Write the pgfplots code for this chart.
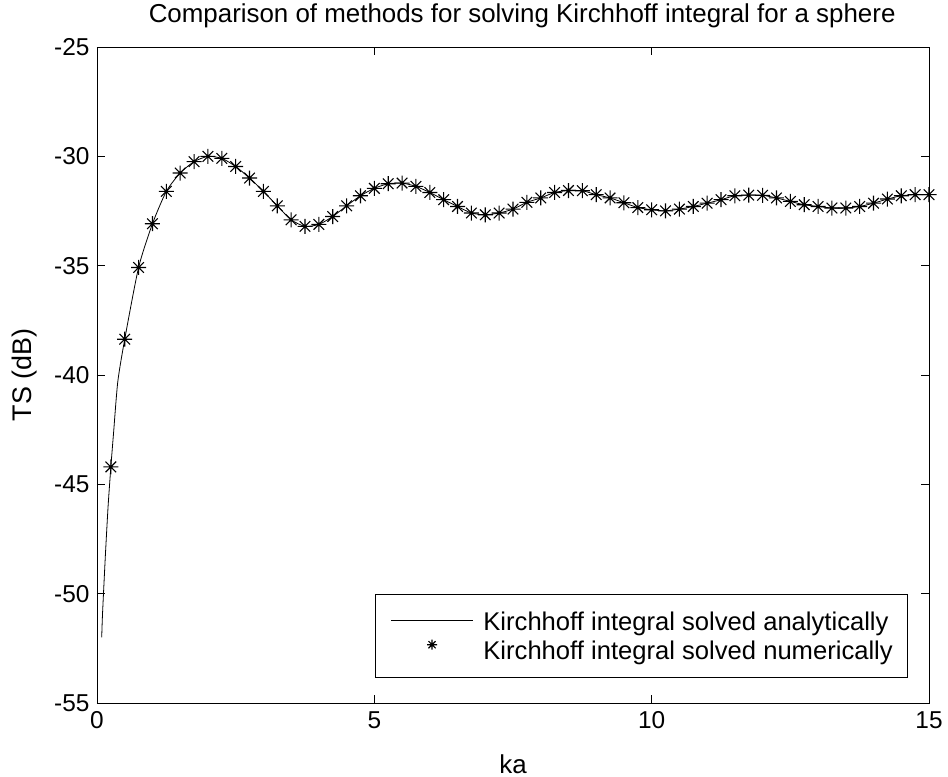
\documentclass[border=0pt]{standalone}
\usepackage{fontspec}
\setmainfont{Liberation Sans}
\usepackage{pgfplots}
\pgfplotsset{compat=1.18}

% eight-ray asterisk marker
\pgfdeclareplotmark{star8}{%
  \pgfpathmoveto{\pgfqpoint{0pt}{\pgfplotmarksize}}%
  \pgfpathlineto{\pgfqpoint{0pt}{-\pgfplotmarksize}}%
  \pgfpathmoveto{\pgfqpoint{\pgfplotmarksize}{0pt}}%
  \pgfpathlineto{\pgfqpoint{-\pgfplotmarksize}{0pt}}%
  \pgfpathmoveto{\pgfqpoint{0.707\pgfplotmarksize}{0.707\pgfplotmarksize}}%
  \pgfpathlineto{\pgfqpoint{-0.707\pgfplotmarksize}{-0.707\pgfplotmarksize}}%
  \pgfpathmoveto{\pgfqpoint{0.707\pgfplotmarksize}{-0.707\pgfplotmarksize}}%
  \pgfpathlineto{\pgfqpoint{-0.707\pgfplotmarksize}{0.707\pgfplotmarksize}}%
  \pgfusepathqstroke}

\begin{document}
\begin{tikzpicture}
\begin{axis}[
  name=ax,
  scale only axis,
  width=832bp, height=656bp,
  xmin=0, xmax=15, ymin=-55, ymax=-25,
  xtick={0,5,10,15},
  ytick={-55,-50,-45,-40,-35,-30,-25},
  tick pos=both,
  tick align=inside,
  major tick length=8bp,
  axis line style={line width=0.8bp, black},
  every tick/.style={line width=0.8bp, black},
  /pgf/number format/assume math mode=true,
  tick label style={font=\fontsize{24.5}{28}\selectfont},
  xticklabel style={yshift=-5bp},
  yticklabel style={xshift=-4bp},
  title={Comparison of methods for solving Kirchhoff integral for a sphere},
  title style={font=\fontsize{26}{30}\selectfont, at={(0.511,1)}, anchor=base, yshift=19bp},
  xlabel={ka},
  xlabel style={font=\fontsize{26}{30}\selectfont, at={(0.5,0)}, anchor=base, yshift=-70bp},
  ylabel={TS (dB)},
  ylabel style={font=\fontsize{27}{31}\selectfont, at={(0,0.5)}, anchor=center, yshift=72bp},
  legend style={font=\fontsize{25.7}{30}\selectfont, at={(0.975,0.038)}, anchor=south east,
    draw=black, line width=0.8bp, inner xsep=15bp, inner ysep=17bp,
    nodes={inner sep=0pt},
    row sep=8bp,
    /tikz/every odd column/.append style={column sep=10bp}},
  legend cell align=left,
]
% analytic solution
\addplot[black, line width=0.8bp, smooth, tension=0.4,
  legend image code/.code={\draw[black, line width=0.8bp] (0bp,1bp) -- (82bp,1bp);}]
coordinates {
(0.085,-52.00) (0.10,-50.90) (0.15,-48.30) (0.20,-46.00) (0.25,-44.20)
(0.30,-42.60) (0.375,-40.30) (0.50,-38.36) (0.75,-35.08) (1.00,-33.08)
(1.25,-31.60) (1.50,-30.76) (1.75,-30.24) (2.00,-30.00) (2.25,-30.09)
(2.50,-30.46) (2.75,-30.99) (3.00,-31.60) (3.25,-32.26) (3.50,-32.90)
(3.75,-33.20) (4.00,-33.11) (4.25,-32.75) (4.50,-32.26) (4.75,-31.80)
(5.00,-31.46) (5.25,-31.25) (5.50,-31.22) (5.75,-31.37) (6.00,-31.65)
(6.25,-31.98) (6.50,-32.29) (6.75,-32.59) (7.00,-32.67) (7.25,-32.59)
(7.50,-32.41) (7.75,-32.10) (8.00,-31.90) (8.25,-31.65) (8.50,-31.56)
(8.75,-31.57) (9.00,-31.75) (9.25,-31.90) (9.50,-32.12) (9.75,-32.34)
(10.00,-32.44) (10.25,-32.49) (10.50,-32.41) (10.75,-32.29) (11.00,-32.14)
(11.25,-31.98) (11.50,-31.80) (11.75,-31.77) (12.00,-31.78) (12.25,-31.90)
(12.50,-32.06) (12.75,-32.21) (13.00,-32.29) (13.25,-32.36) (13.50,-32.36)
(13.75,-32.29) (14.00,-32.14) (14.25,-31.95) (14.50,-31.80) (14.75,-31.75)
(15.00,-31.75)
};
\addlegendentry{Kirchhoff integral solved analytically}
% numerical solution
\addplot[only marks, black, mark=star8, mark size=7.5bp, mark options={line width=1.1bp},
  legend image code/.code={\draw[black, line width=0.8bp] plot[mark=star8, mark size=5bp] coordinates {(41bp,6bp)};}]
coordinates {
(0.25,-44.20) (0.50,-38.36) (0.75,-35.08) (1.00,-33.08)
(1.25,-31.60) (1.50,-30.76) (1.75,-30.24) (2.00,-30.00) (2.25,-30.09)
(2.50,-30.46) (2.75,-30.99) (3.00,-31.60) (3.25,-32.26) (3.50,-32.90)
(3.75,-33.20) (4.00,-33.11) (4.25,-32.75) (4.50,-32.26) (4.75,-31.80)
(5.00,-31.46) (5.25,-31.25) (5.50,-31.22) (5.75,-31.37) (6.00,-31.65)
(6.25,-31.98) (6.50,-32.29) (6.75,-32.59) (7.00,-32.67) (7.25,-32.59)
(7.50,-32.41) (7.75,-32.10) (8.00,-31.90) (8.25,-31.65) (8.50,-31.56)
(8.75,-31.57) (9.00,-31.75) (9.25,-31.90) (9.50,-32.12) (9.75,-32.34)
(10.00,-32.44) (10.25,-32.49) (10.50,-32.41) (10.75,-32.29) (11.00,-32.14)
(11.25,-31.98) (11.50,-31.80) (11.75,-31.77) (12.00,-31.78) (12.25,-31.90)
(12.50,-32.06) (12.75,-32.21) (13.00,-32.29) (13.25,-32.36) (13.50,-32.36)
(13.75,-32.29) (14.00,-32.14) (14.25,-31.95) (14.50,-31.80) (14.75,-31.75)
(15.00,-31.75)
};
\addlegendentry{Kirchhoff integral solved numerically}
\end{axis}
% page frame around the axis and its labels
\path ([xshift=-97bp,yshift=-72bp]ax.south west) rectangle ([xshift=19bp,yshift=47bp]ax.north east);
\end{tikzpicture}
\end{document}
